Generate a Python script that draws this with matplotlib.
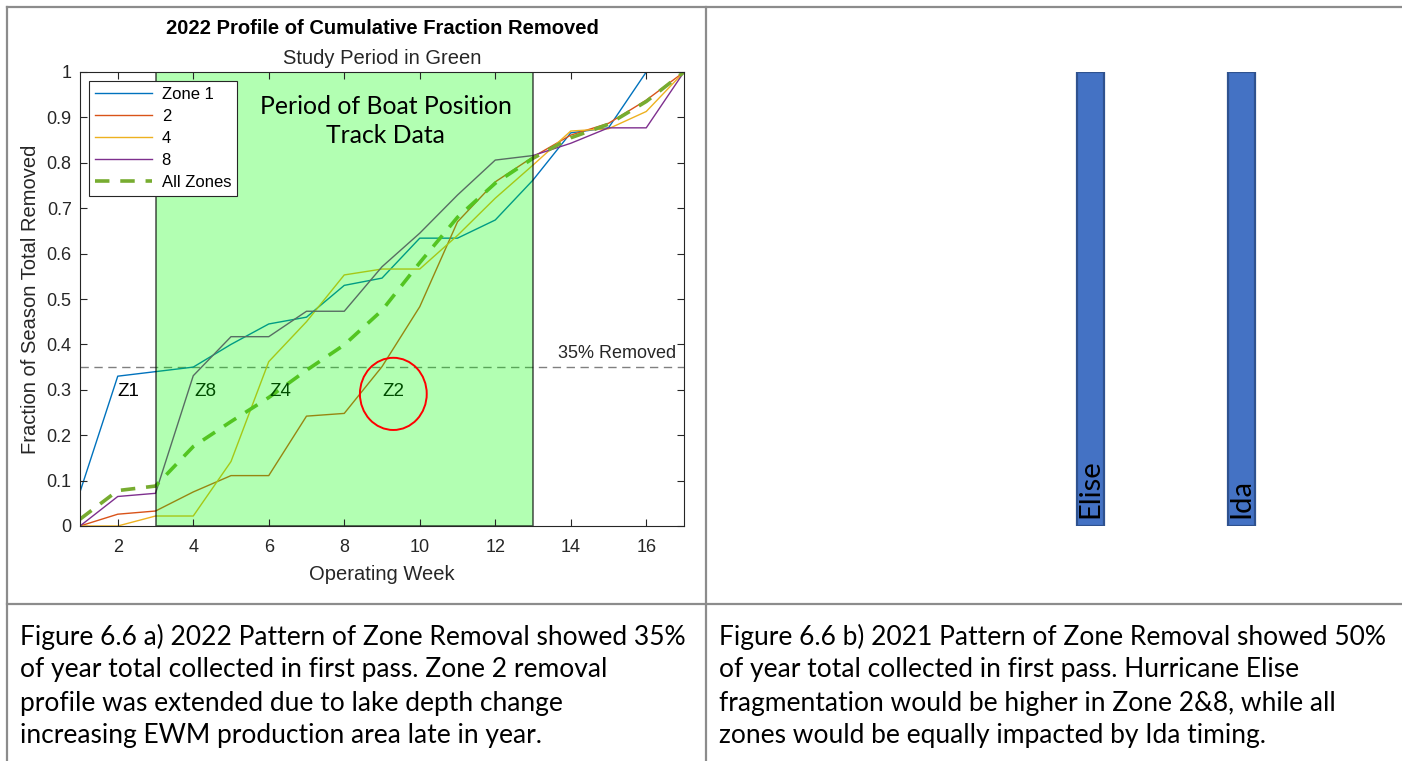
import matplotlib.pyplot as plt
from matplotlib.patches import Rectangle, Ellipse
import numpy as np

# data
weeks = np.arange(1, 18)
zone1 = [0.075, 0.33, 0.34, 0.35, 0.40, 0.445, 0.46, 0.53, 0.546, 0.634, 0.634, 0.674, 0.762, 0.866, 0.877, 1.0, 1.0]
zone2 = [0.0, 0.026, 0.033, 0.075, 0.111, 0.111, 0.242, 0.248, 0.351, 0.483, 0.67, 0.758, 0.813, 0.861, 0.887, 0.938, 1.0]
zone4 = [0.0, 0.0, 0.022, 0.022, 0.142, 0.362, 0.45, 0.553, 0.566, 0.566, 0.64, 0.722, 0.795, 0.87, 0.875, 0.913, 1.0]
zone8 = [0.0, 0.065, 0.072, 0.331, 0.417, 0.417, 0.473, 0.473, 0.571, 0.645, 0.729, 0.806, 0.816, 0.843, 0.877, 0.877, 1.0]
all_zones = [0.015, 0.078, 0.088, 0.175, 0.23, 0.283, 0.343, 0.399, 0.475, 0.58, 0.68, 0.755, 0.81, 0.855, 0.885, 0.935, 1.0]
zone_labels = ['Zone 1', '2', '4', '8']
study_period = (3, 13)
removed_level = 0.35
z_tags = ['Z1', 'Z8', 'Z4', 'Z2']
z_tag_x = [2.27, 4.31, 6.3, 9.29]
z_tag_y = 0.297
hurricanes = ['Elise', 'Ida']
hurricane_week = [9.22, 13.22]

caption_a = ["Figure 6.6 a) 2022 Pattern of Zone Removal showed 35%",
             "of year total collected in first pass. Zone 2 removal",
             "profile was extended due to lake depth change",
             "increasing EWM production area late in year."]
caption_b = ["Figure 6.6 b) 2021 Pattern of Zone Removal showed 50%",
             "of year total collected in first pass. Hurricane Elise",
             "fragmentation would be higher in Zone 2&8, while all",
             "zones would be equally impacted by Ida timing."]

W, H = 1402, 761
plt.rcParams['font.family'] = ['Liberation Sans', 'DejaVu Sans']
fig = plt.figure(figsize=(W / 100, H / 100), dpi=100)

# table frame + captions
bg = fig.add_axes([0, 0, 1, 1])
bg.set_xlim(0, W)
bg.set_ylim(H, 0)
bg.axis('off')
gc = '#8c8c8c'
bg.plot([7, W], [7, 7], color=gc, lw=1.6)
bg.plot([7, W], [604, 604], color=gc, lw=1.6)
bg.plot([7, 7], [7, H], color=gc, lw=1.6)
bg.plot([706, 706], [7, H], color=gc, lw=1.6)
for i, (la, lb) in enumerate(zip(caption_a, caption_b)):
    y = 637 + i * 33
    bg.text(20, y, la, family='Lato', fontsize=19, va='center', ha='left')
    bg.text(719, y, lb, family='Lato', fontsize=19, va='center', ha='left')

# left chart
ax = fig.add_axes([80 / W, 1 - 526 / H, 604 / W, 454 / H])
colors = ['#0072BD', '#D95319', '#EDB120', '#7E2F8E']
for vals, c, lab in zip([zone1, zone2, zone4, zone8], colors, zone_labels):
    ax.plot(weeks, vals, color=c, lw=1.0, label=lab, zorder=1.2)
ax.plot(weeks, all_zones, color='#77AC30', lw=2.6, ls=(0, (4, 3)), label='All Zones', zorder=1.3)
ax.axhline(removed_level, color='#808080', lw=1.0, ls=(0, (6, 4)), zorder=1.1)
ax.text(16.8, removed_level + 0.012, '35% Removed', fontsize=13, color='#262626', ha='right', va='bottom')

for t, x in zip(z_tags, z_tag_x):
    ax.text(x, z_tag_y, t, fontsize=13.5, ha='center', va='center', zorder=1.4)

ax.add_patch(Rectangle((study_period[0], 0), study_period[1] - study_period[0], 1,
                       facecolor=(0, 1, 0, 0.3), edgecolor=(0, 0, 0, 0.65), lw=1.2, zorder=2))
ax.text(9.1, 0.892, 'Period of Boat Position\nTrack Data', family='Lato', fontsize=17.8,
        ha='center', va='center', linespacing=1.3, zorder=3)
ax.add_patch(Ellipse((9.30, 0.291), 1.77, 0.159, facecolor='none', edgecolor='red', lw=1.4, zorder=3))

ax.set_xlim(1, 17)
ax.set_ylim(0, 1)
ax.set_xticks(range(2, 17, 2))
ax.set_yticks(np.arange(0, 1.01, 0.1))
ax.set_yticklabels(['0'] + ['%.1f' % v for v in np.arange(0.1, 0.95, 0.1)] + ['1'])
ax.set_axisbelow(False)
ax.tick_params(direction='in', top=True, right=True, length=5, labelsize=13,
               colors='#262626', width=0.8)
ax.tick_params(axis='x', pad=9)
ax.tick_params(axis='y', pad=6)
for s in ax.spines.values():
    s.set_color('#262626')
    s.set_linewidth(0.8)
ax.set_xlabel('Operating Week', fontsize=14.5, color='#262626', labelpad=7)
ax.set_ylabel('Fraction of Season Total Removed', fontsize=14.5, color='#262626', labelpad=5)
ax.set_title('Study Period in Green', fontsize=14.5, color='#262626', pad=6)
fig.text(382 / W, 1 - 28 / H, '2022 Profile of Cumulative Fraction Removed',
         fontsize=14.5, weight='bold', ha='center', va='center')
leg = ax.legend(loc='upper left', fontsize=12, frameon=True, fancybox=False, framealpha=1,
                edgecolor='#262626', borderaxespad=0.55, handlelength=3.4,
                labelspacing=0.42, borderpad=0.35, handletextpad=0.6)
leg.get_frame().set_linewidth(0.8)

# right panel: hurricane markers
ax2 = fig.add_axes([780 / W, 1 - 526 / H, 604 / W, 454 / H])
ax2.bar(hurricane_week, [1, 1], width=0.72, bottom=0, color='#4472C4', edgecolor='#2F528F', lw=1.6)
for name, x in zip(hurricanes, hurricane_week):
    ax2.text(x, 0.018, name, rotation=90, family='Lato', fontsize=21, ha='center', va='bottom')
ax2.set_xlim(1, 17)
ax2.set_ylim(0, 1)
ax2.axis('off')

fig.savefig('out.png', dpi=100)
